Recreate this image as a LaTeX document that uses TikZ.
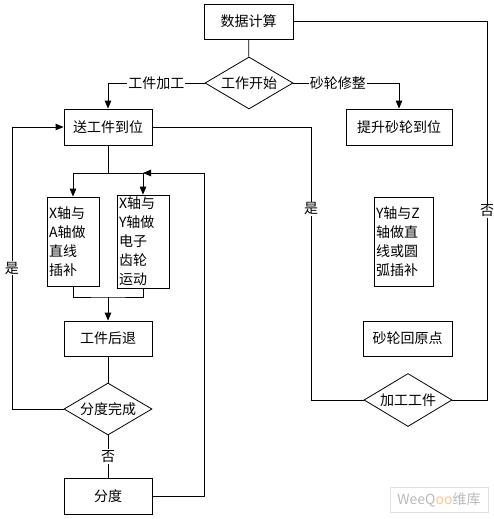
\documentclass[tikz,border=0pt]{standalone}
\usepackage{fontspec}
\setmainfont{Noto Sans CJK SC}
\usetikzlibrary{positioning, shapes, arrows.meta}

\begin{document}
\begin{tikzpicture}[x=1pt, y=-1pt, line width=0.8pt, >={Triangle[length=8pt,width=6.5pt]},
        every node/.style={font=\fontsize{14}{19}\selectfont},
        box/.style={draw, minimum width=88pt, minimum height=35pt, inner sep=1pt},
        tallbox/.style={draw, minimum height=89pt, inner sep=2pt, align=left},
        decision/.style={draw, diamond, aspect=1.7, inner sep=0pt, minimum width=88pt, minimum height=52pt},
        lbl/.style={fill=white, inner sep=1pt}]
        \useasboundingbox (0,0) rectangle (494,519);

        \node[box, minimum width=89pt] (calc) at (248.5,21.5) {数据计算};
        \node[decision] (start) at (249,83) {工作开始};
        \node[box, minimum height=36pt] (feed) at (108,127) {送工件到位};
        \node[box, minimum width=106pt, minimum height=36pt] (lift) at (399,127) {提升砂轮到位};

        \node[tallbox, text width=48pt] (xa) at (73,241.5) {X轴与\\A轴做\\直线\\插补};
        \node[tallbox, text width=48pt] (xy) at (143,241.5) {X轴与\\Y轴做\\电子\\齿轮\\运动};
        \node[tallbox, text width=56pt, inner sep=1.5pt] (yz) at (404,241.5) {Y轴与Z\\轴做直\\线或圆\\弧插补};

        \node[box] (back) at (108,338.5) {工件后退};
        \node[box, minimum width=89pt] (home) at (407.5,338.5) {砂轮回原点};
        \node[decision] (done) at (108,409) {分度完成};
        \node[box, minimum height=36pt] (index) at (108,496) {分度};
        \node[decision, minimum height=53pt] (work) at (408,400) {加工工件};

        \coordinate (split) at (108,173);
        \coordinate (loop) at (204,173);
        \coordinate (merge) at (108,297);
        \coordinate (nr) at (487,21.5);

        \draw (calc) -- (start);
        \draw[->] (start.west) -- node[lbl] {工件加工} (feed.north |- start.west) -- (feed.north);
        \draw[->] (start.east) -- node[lbl, pos=0.42] {砂轮修整} (lift.north |- start.east) -- (lift.north);

        \draw (calc.east) -- (nr) -- node[lbl] {否} (nr |- work.east) -- (work.east);
        \draw (work.west) -- (311,400) -- node[lbl, pos=0.7] {是} (311,127) -- (feed.east);

        \draw (feed) -- (split);
        \draw[->] (split) -| (xa.north);
        \draw (split) -- (xy.north |- split);
        \draw[->] (index.east) -| (loop) -- (xy.north |- loop);
        \draw[->] (xy.north |- loop) -- (xy.north);

        \draw (xa.south) |- (merge) -| (xy.south);
        \draw[->] (merge) -- (back);
        \draw (back) -- (done);
        \draw[->] (done.west) -- (12,409) -- node[lbl] {是} (12,127) -- (feed.west);
        \draw (done.south) -- node[lbl] {否} (index.north);

        \node[draw=gray!25, line width=0.5pt, minimum width=98pt, minimum height=25pt, text=gray!55,
            font=\fontsize{14}{16}\selectfont] (mark) at (439,499.5) {\textit{Wee}Q{\color{orange!45}oo}维库};
    \end{tikzpicture}
\end{document}
